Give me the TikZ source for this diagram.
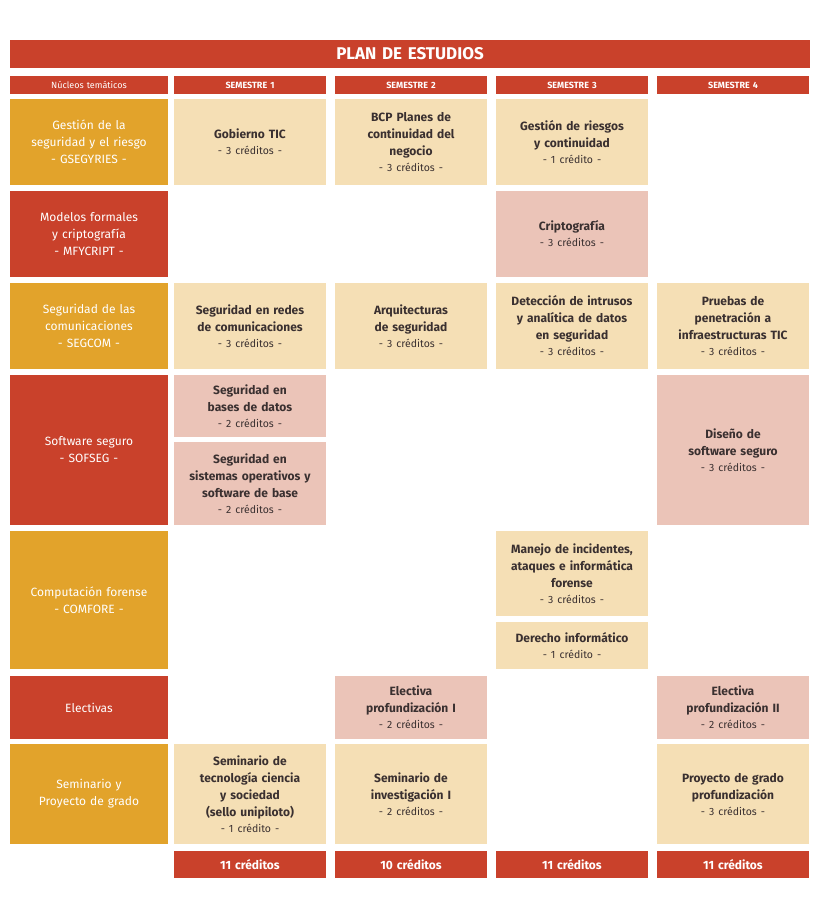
\documentclass[tikz,border=0pt]{standalone}
\usepackage{fontspec}
\setmainfont{Fira Sans}
\definecolor{hred}{HTML}{C9412B}
\definecolor{hyel}{HTML}{E2A32B}
\definecolor{cream}{HTML}{F5DFB5}
\definecolor{pink}{HTML}{EBC4B8}
\definecolor{txt}{HTML}{3A3030}
\newcommand\cred[1]{\\[-1pt]{\fontsize{10.5}{14}\selectfont\mdseries - #1 -}}
\tikzset{
 box/.style={inner sep=2pt, align=center, text width=#1},
 cell/.style={box=142pt, text=txt, font=\fontsize{12}{17}\selectfont\bfseries},
 lab/.style={box=150pt, text=white, font=\fontsize{12}{17}\selectfont},
 hdr/.style={box=150pt, text=white, font=\fontsize{9}{11}\selectfont\bfseries},
}
\newcommand\R[6]{% name, x1,y1,x2,y2, color
 \fill[#6] (#2,#3) rectangle (#4,#5);
 \coordinate (#1) at ({(#2+#4)/2},{(#3+#5)/2});}
\begin{document}
\begin{tikzpicture}[x=1pt,y=-1pt]
\useasboundingbox (0,0) rectangle (820,899);
\fill[white] (0,0) rectangle (820,899);
% title
\R{t}{10}{40}{810}{68}{hred}
\node[box=600pt,text=white,font=\fontsize{17}{20}\selectfont\bfseries] (tt) at (t) {PLAN DE ESTUDIOS};
% headers
\R{h0}{10}{76}{168}{94}{hred}\node[hdr,font=\fontsize{9}{11}\selectfont] (h0t) at (h0) {Núcleos temáticos};
\R{h1}{174}{76}{326}{94}{hred}\node[hdr] (h1t) at (h1) {SEMESTRE 1};
\R{h2}{335}{76}{487}{94}{hred}\node[hdr] (h2t) at (h2) {SEMESTRE 2};
\R{h3}{496}{76}{648}{94}{hred}\node[hdr] (h3t) at (h3) {SEMESTRE 3};
\R{h4}{657}{76}{809}{94}{hred}\node[hdr] (h4t) at (h4) {SEMESTRE 4};
% row labels
\R{l1}{10}{99}{168}{185}{hyel}\node[lab] (l1t) at (l1) {Gestión de la\\seguridad y el riesgo\\- GSEGYRIES -};
\R{l2}{10}{191}{168}{277}{hred}\node[lab] (l2t) at (l2) {Modelos formales\\y criptografía\\- MFYCRIPT -};
\R{l3}{10}{283}{168}{369}{hyel}\node[lab] (l3t) at (l3) {Seguridad de las\\comunicaciones\\- SEGCOM -};
\R{l4}{10}{375}{168}{525}{hred}\node[lab] (l4t) at (l4) {Software seguro\\- SOFSEG -};
\R{l5}{10}{531}{168}{669}{hyel}\node[lab] (l5t) at (l5) {Computación forense\\- COMFORE -};
\R{l6}{10}{676}{168}{739}{hred}\node[lab] (l6t) at (l6) {Electivas};
\R{l7}{10}{744}{168}{844}{hyel}\node[lab] (l7t) at (l7) {Seminario y\\Proyecto de grado};
% row 1
\R{a1}{174}{99}{326}{185}{cream}\node[cell] (a1t) at (a1) {Gobierno TIC\cred{3 créditos}};
\R{a2}{335}{99}{487}{185}{cream}\node[cell] (a2t) at (a2) {BCP Planes de\\continuidad del\\negocio\cred{3 créditos}};
\R{a3}{496}{99}{648}{185}{cream}\node[cell] (a3t) at (a3) {Gestión de riesgos\\y continuidad\cred{1 crédito}};
% row 2
\R{b3}{496}{191}{648}{277}{pink}\node[cell] (b3t) at (b3) {Criptografía\cred{3 créditos}};
% row 3
\R{c1}{174}{283}{326}{369}{cream}\node[cell] (c1t) at (c1) {Seguridad en redes\\de comunicaciones\cred{3 créditos}};
\R{c2}{335}{283}{487}{369}{cream}\node[cell] (c2t) at (c2) {Arquitecturas\\de seguridad\cred{3 créditos}};
\R{c3}{496}{283}{648}{369}{cream}\node[cell,text width=150pt] (c3t) at (c3) {Detección de intrusos\\y analítica de datos\\en seguridad\cred{3 créditos}};
\R{c4}{657}{283}{809}{369}{cream}\node[cell,text width=150pt] (c4t) at (c4) {Pruebas de\\penetración a\\infraestructuras TIC\cred{3 créditos}};
% row 4
\R{d1}{174}{375}{326}{437}{pink}\node[cell] (d1t) at (d1) {Seguridad en\\bases de datos\cred{2 créditos}};
\R{d1b}{174}{442}{326}{525}{pink}\node[cell,text width=150pt] (d1bt) at (d1b) {Seguridad en\\sistemas operativos y\\software de base\cred{2 créditos}};
\R{d4}{657}{375}{809}{525}{pink}\node[cell] (d4t) at (d4) {Diseño de\\software seguro\cred{3 créditos}};
% row 5
\R{e3}{496}{531}{648}{616}{cream}\node[cell,text width=150pt] (e3t) at (e3) {Manejo de incidentes,\\ataques e informática\\forense\cred{3 créditos}};
\R{e3b}{496}{622}{648}{669}{cream}\node[cell] (e3bt) at (e3b) {Derecho informático\cred{1 crédito}};
% row 6
\R{f2}{335}{676}{487}{739}{pink}\node[cell] (f2t) at (f2) {Electiva\\profundización I\cred{2 créditos}};
\R{f4}{657}{676}{809}{739}{pink}\node[cell] (f4t) at (f4) {Electiva\\profundización II\cred{2 créditos}};
% row 7
\R{g1}{174}{744}{326}{844}{cream}\node[cell] (g1t) at (g1) {Seminario de\\tecnología ciencia\\y sociedad\\(sello unipiloto)\cred{1 crédito}};
\R{g2}{335}{744}{487}{844}{cream}\node[cell] (g2t) at (g2) {Seminario de\\investigación I\cred{2 créditos}};
\R{g4}{657}{744}{809}{844}{cream}\node[cell] (g4t) at (g4) {Proyecto de grado\\profundización\cred{3 créditos}};
% footer
\R{s1}{174}{851}{326}{878}{hred}\node[lab,font=\fontsize{12}{14}\selectfont\bfseries] (s1t) at (s1) {11 créditos};
\R{s2}{335}{851}{487}{878}{hred}\node[lab,font=\fontsize{12}{14}\selectfont\bfseries] (s2t) at (s2) {10 créditos};
\R{s3}{496}{851}{648}{878}{hred}\node[lab,font=\fontsize{12}{14}\selectfont\bfseries] (s3t) at (s3) {11 créditos};
\R{s4}{657}{851}{809}{878}{hred}\node[lab,font=\fontsize{12}{14}\selectfont\bfseries] (s4t) at (s4) {11 créditos};
\end{tikzpicture}
\end{document}
